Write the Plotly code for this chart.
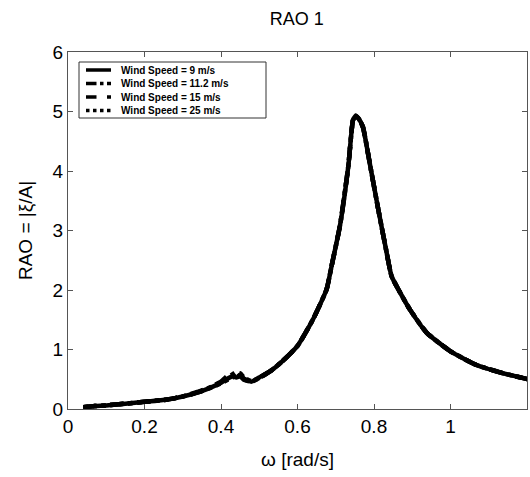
import plotly.graph_objects as go

omega = [0.04, 0.07, 0.10, 0.15, 0.20, 0.26, 0.30, 0.34, 0.37, 0.40, 0.42, 0.43, 0.44, 0.45, 0.46, 0.48, 0.50,
         0.53, 0.56, 0.60, 0.64, 0.676, 0.689, 0.711, 0.733, 0.745, 0.752, 0.760, 0.771, 0.790, 0.811, 0.833, 0.846,
         0.868, 0.894, 0.938, 1.00, 1.068, 1.138, 1.21]

rao_9 = [0.03, 0.05, 0.06, 0.09, 0.12, 0.16, 0.21, 0.28, 0.35, 0.44, 0.52, 0.55, 0.53, 0.55, 0.50, 0.46, 0.53,
         0.64, 0.80, 1.06, 1.50, 2.01, 2.40, 3.08, 4.09, 4.85, 4.93, 4.88, 4.74, 4.09, 3.36, 2.63, 2.23,
         1.96, 1.67, 1.28, 0.97, 0.74, 0.60, 0.49]
rao_11 = [0.03, 0.05, 0.06, 0.09, 0.12, 0.16, 0.21, 0.28, 0.36, 0.45, 0.54, 0.58, 0.62, 0.56, 0.49, 0.46, 0.52,
          0.64, 0.80, 1.06, 1.50, 2.01, 2.40, 3.08, 4.09, 4.85, 4.93, 4.88, 4.74, 4.09, 3.36, 2.63, 2.23,
          1.96, 1.67, 1.28, 0.97, 0.74, 0.60, 0.49]
rao_15 = [0.03, 0.05, 0.06, 0.09, 0.12, 0.16, 0.21, 0.29, 0.36, 0.46, 0.57, 0.54, 0.52, 0.58, 0.51, 0.47, 0.53,
          0.64, 0.80, 1.06, 1.50, 2.01, 2.40, 3.08, 4.09, 4.85, 4.93, 4.88, 4.74, 4.09, 3.36, 2.63, 2.23,
          1.96, 1.67, 1.28, 0.97, 0.74, 0.60, 0.49]
rao_25 = [0.03, 0.05, 0.06, 0.09, 0.12, 0.16, 0.21, 0.28, 0.35, 0.43, 0.50, 0.53, 0.56, 0.60, 0.53, 0.47, 0.52,
          0.64, 0.80, 1.06, 1.50, 2.01, 2.40, 3.08, 4.09, 4.85, 4.93, 4.88, 4.74, 4.09, 3.36, 2.63, 2.23,
          1.96, 1.67, 1.28, 0.97, 0.74, 0.60, 0.49]

names = ["Wind Speed = 9 m/s", "Wind Speed = 11.2 m/s", "Wind Speed = 15 m/s", "Wind Speed = 25 m/s"]
series = [rao_9, rao_11, rao_15, rao_25]
dashes = ["solid", "dashdot", "dash", "dot"]

x_ticks = [0, 0.2, 0.4, 0.6, 0.8, 1]
y_ticks = [0, 1, 2, 3, 4, 5, 6]

FONT = "Liberation Sans, Arial"

fig = go.Figure()
for n, s, d in zip(names, series, dashes):
    fig.add_trace(go.Scatter(x=omega, y=s, mode="lines", name=n, showlegend=False,
                             line=dict(color="black", width=4.5, dash=d, shape="spline", smoothing=0.5)))

# plot area in pixels (for legend placement)
L, R, T, B = 68, 527, 52, 409
def px(xp):
    return (xp - L) / (R - L)
def py(yp):
    return (B - yp) / (B - T)

shapes = [dict(type="rect", xref="paper", yref="paper", x0=px(79), x1=px(266), y0=py(118), y1=py(62),
               line=dict(color="#333", width=1), fillcolor="white", layer="above")]
annotations = []
rows = [70, 83.5, 97, 110.5]
for n, d, r in zip(names, dashes, rows):
    shapes.append(dict(type="line", xref="paper", yref="paper", x0=px(86), x1=px(111), y0=py(r), y1=py(r),
                       line=dict(color="black", width=3.5, dash=d), layer="above"))
    annotations.append(dict(xref="paper", yref="paper", x=px(120), y=py(r), xanchor="left", yanchor="middle",
                            text="<b>" + n + "</b>", showarrow=False, borderpad=0,
                            font=dict(family=FONT, size=10, color="black")))

axis_common = dict(showgrid=False, zeroline=False, mirror="ticks", ticks="inside", ticklen=5,
                   linecolor="#555", linewidth=1, tickcolor="#555",
                   tickfont=dict(family=FONT, size=19, color="black"))

fig.update_layout(
    width=530, height=477,
    margin=dict(l=L, r=530 - R, t=T, b=477 - B),
    paper_bgcolor="white", plot_bgcolor="white",
    title=dict(text="RAO 1", x=0.56, xanchor="center", y=0.96, yanchor="middle",
               font=dict(family=FONT, size=18, color="black")),
    xaxis=dict(range=[0, 1.2], tickvals=x_ticks, ticktext=["0", "0.2", "0.4", "0.6", "0.8", "1"],
               title=dict(text="ω [rad/s]", standoff=16,
                          font=dict(family=FONT, size=19, color="black")),
               **axis_common),
    yaxis=dict(range=[0, 6], tickvals=y_ticks,
               title=dict(text="RAO = |ξ/A|", standoff=14,
                          font=dict(family=FONT, size=19, color="black")),
               **axis_common),
    shapes=shapes,
    annotations=annotations,
    showlegend=False,
)

fig.write_html("out.html")
